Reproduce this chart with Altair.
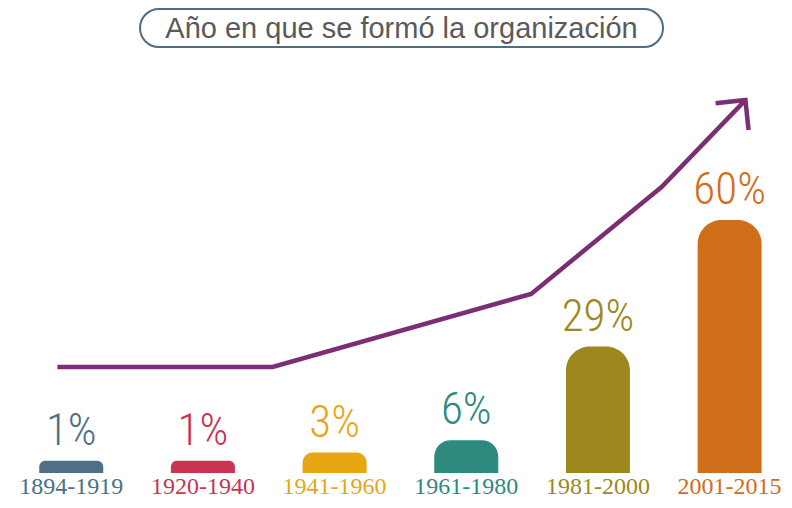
import altair as alt
import pandas as pd

# ---- data ----
categories = ["1894-1919", "1920-1940", "1941-1960", "1961-1980", "1981-2000", "2001-2015"]
shares = [1, 1, 3, 6, 29, 60]
colors = ["#4D7087", "#C93450", "#E9A613", "#2E8A7F", "#9E871D", "#D06E1A"]
trend_x = [-0.105, 1.529, 3.493, 4.483, 5.12]
trend_y = [24.0, 24.0, 41.9, 68.1, 89.4]
title_text = "Año en que se formó la organización"

bars = pd.DataFrame({
    "cat": categories,
    "pos": list(range(len(categories))),
    "share": shares,
    "label": [f"{v}%" for v in shares],
    "base": [-2] * len(categories),
})
trend = pd.DataFrame({"x": trend_x, "y": trend_y, "order": list(range(len(trend_x)))})
tip = trend.tail(1)
title_df = pd.DataFrame({"t": [title_text]})

PURPLE = "#7B2E74"
xs = alt.Scale(domain=[-0.4423, 5.375])
ys = alt.Scale(domain=[-8.62, 111.97])
color = alt.Color("cat:N", scale=alt.Scale(domain=categories, range=colors), legend=None)

base = alt.Chart(bars)

bar = base.mark_bar(size=64, cornerRadiusTopLeft=24, cornerRadiusTopRight=24).encode(
    x=alt.X("pos:Q", scale=xs, axis=None),
    y=alt.Y("share:Q", scale=ys, axis=None),
    y2="base:Q",
    color=color,
)

pct = base.mark_text(dy=-16, baseline="alphabetic",
                     font="Roboto Condensed, DejaVu Sans Condensed, Roboto",
                     fontWeight=300, fontSize=45).encode(
    x=alt.X("pos:Q", scale=xs, axis=None),
    y=alt.Y("share:Q", scale=ys, axis=None),
    text="label:N",
    color=color,
)

cat_labels = base.mark_text(baseline="alphabetic", font="Liberation Serif", fontSize=24).encode(
    x=alt.X("pos:Q", scale=xs, axis=None),
    y=alt.value(486),
    text="cat:N",
    color=color,
)

line = alt.Chart(trend).mark_line(color=PURPLE, strokeWidth=4.5, strokeJoin="miter").encode(
    x=alt.X("x:Q", scale=xs, axis=None),
    y=alt.Y("y:Q", scale=ys, axis=None),
    order="order:Q",
)

arrow = alt.Chart(tip).mark_point(
    shape="M -1 1 L 0 0 L 1 1", size=1800, angle=39, filled=False,
    stroke=PURPLE, strokeWidth=4.5, opacity=1, strokeJoin="miter",
).encode(
    x=alt.X("x:Q", scale=xs, axis=None),
    y=alt.Y("y:Q", scale=ys, axis=None),
)

title_box = alt.Chart(title_df).mark_rect(
    cornerRadius=19, fill="white", stroke="#4F6D82", strokeWidth=2
).encode(
    x=alt.value(132), x2=alt.value(655), y=alt.value(1), y2=alt.value(39)
)

title_txt = alt.Chart(title_df).mark_text(
    fontSize=29, color="#5A5A5A", font="Liberation Sans", baseline="alphabetic"
).encode(x=alt.value(393.5), y=alt.value(30), text="t:N")

chart = alt.layer(bar, line, arrow, pct, cat_labels, title_box, title_txt).properties(
    width=776, height=492, padding=0,
    autosize=alt.AutoSizeParams(type="none"),
).configure_view(stroke=None)

chart.save("out.html", embed_options={"renderer": "svg", "actions": False})
